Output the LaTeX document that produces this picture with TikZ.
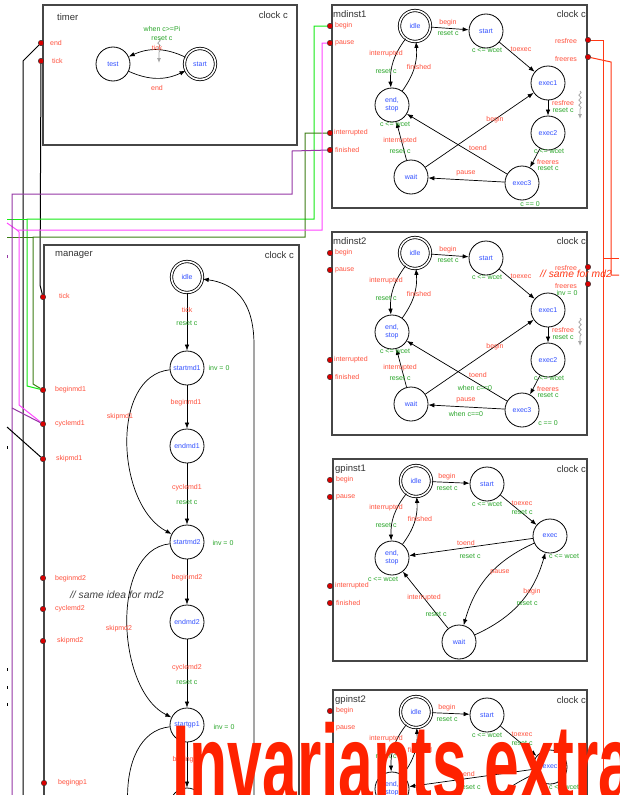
\documentclass[tikz,border=0pt]{standalone}
\usepackage{fontspec}
\setmainfont{Liberation Sans}
\usetikzlibrary{arrows.meta, decorations.pathmorphing}
\definecolor{syncred}{RGB}{255,80,60}
\definecolor{updgreen}{RGB}{40,165,40}
\definecolor{locblue}{RGB}{50,80,255}
\definecolor{boxgrey}{RGB}{70,70,70}
\definecolor{wiregreen}{RGB}{20,235,20}
\definecolor{wiredark}{RGB}{60,125,20}
\definecolor{wirepink}{RGB}{255,70,255}
\definecolor{wirepurple}{RGB}{150,55,165}
\definecolor{wirered}{RGB}{255,55,20}
\definecolor{titlered}{RGB}{255,34,0}
\tikzstyle{location} = [circle, 
draw=black, 
line width=0.8pt, 
minimum size=34pt, 
inner sep=0pt, 
align=center, 
font=\fontsize{7}{8}\selectfont, 
text=locblue]
\tikzstyle{initial loc} = [location, 
double, 
double distance=1.6pt, 
minimum size=31pt]
\tikzstyle{trans} = [line width=0.7pt, -{Latex[length=6pt,width=4.5pt]}]
\tikzstyle{sync} = [font=\fontsize{7}{8}\selectfont, text=syncred, inner sep=0pt]
\tikzstyle{update} = [font=\fontsize{7}{8}\selectfont, text=updgreen, inner sep=0pt]
\tikzstyle{port} = [circle, fill=red!85!black, draw=black!80, line width=0.4pt, minimum size=5.5pt, inner sep=0pt]
\tikzstyle{process} = [draw=boxgrey, line width=1.1pt]
\tikzstyle{title} = [font=\fontsize{9.5}{11}\selectfont, text=black!80, inner sep=0pt]
\tikzstyle{note} = [font=\fontsize{10.3}{12}\selectfont\itshape, inner sep=0pt]
\tikzstyle{wire} = [line width=1pt]
\tikzstyle{progress} = [draw=black!35, line width=0.8pt, decorate, 
decoration={snake, amplitude=1.2pt, segment length=5pt, post length=9pt}, 
-{Latex[length=5pt,width=4pt]}]

% one md instance: prefix, name, vertical shift
\newcommand{\mdinstance}[3]{%
\begin{scope}[shift={(0,#3)}]
\draw[process] (332,5) rectangle (587,208);
\node[title, anchor=west] at (333,14) {#2};
\node[title, anchor=east] at (586,14) {clock c};
\node (#1begin) [port] at (330,26) {};
\node (#1pause) [port] at (330,43) {};
\node (#1interrupted) [port] at (330,133) {};
\node (#1finished) [port] at (330,150) {};
\node (#1resfree) [port] at (588,40) {};
\node (#1freeres) [port] at (588,57) {};
\node[sync, anchor=west] at (335,26) {begin};
\node[sync, anchor=west] at (335,43) {pause};
\node[sync, anchor=west] at (334,133) {interrupted};
\node[sync, anchor=west] at (335,150) {finished};
\node[sync] at (566,41) {resfree};
\node[sync] at (566,59) {freeres};
\node (#1idle) [initial loc] at (415,26) {idle};
\node (#1start) [location] at (486,31) {start};
\node (#1exec1) [location] at (548,83) {exec1};
\node (#1exec2) [location] at (548,133) {exec2};
\node (#1exec3) [location] at (522,183) {exec3};
\node (#1wait) [location] at (411,177) {wait};
\node (#1endstop) [location] at (392,105) {end,\\stop};
\draw[trans] (#1idle) -- (#1start);
\draw[trans] (#1start) -- (#1exec1);
\draw[trans] (#1exec1) -- (#1exec2);
\draw[trans] (#1exec2) -- (#1exec3);
\draw[trans] (#1exec3) -- (#1wait);
\draw[trans] (#1exec3) -- (#1endstop);
\draw[trans] (#1wait) -- (#1exec1);
\draw[trans] (#1wait) -- (#1endstop);
\draw[trans] (#1idle) to[bend right=20] (#1endstop);
\draw[trans] (#1endstop) to[bend right=20] (#1idle);
\node[sync] at (448,23) {begin};
\node[update] at (448,33) {reset c};
\node[update] at (487,50) {c <= wcet};
\node[sync] at (521,49) {toexec};
\node[sync] at (386,54) {interrupted};
\node[update] at (386,71) {reset c};
\node[sync] at (419,67) {finished};
\node[update] at (395,124) {c <= wcet};
\node[sync] at (563,103) {resfree};
\node[update] at (563,110) {reset c};
\node[update] at (549,151) {c <= wcet};
\node[sync] at (548,162) {freeres};
\node[update] at (548,168) {reset c};
\node[sync] at (495,120) {begin};
\node[sync] at (478,148) {toend};
\node[sync] at (400,141) {interrupted};
\node[update] at (400,151) {reset c};
\node[sync] at (466,173) {pause};
\draw[progress] (580,91) -- (580,119);
\end{scope}}

% one gp instance: prefix, name, vertical shift
\newcommand{\gpinstance}[3]{%
\begin{scope}[shift={(0,#3)}]
\draw[process] (333,459) rectangle (587,661);
\node[title, anchor=west] at (335,469) {#2};
\node[title, anchor=east] at (586,469) {clock c};
\node (#1begin) [port] at (330,480) {};
\node (#1pause) [port] at (330,497) {};
\node (#1interrupted) [port] at (330,586) {};
\node (#1finished) [port] at (330,603) {};
\node[sync, anchor=west] at (336,480) {begin};
\node[sync, anchor=west] at (336,497) {pause};
\node[sync, anchor=west] at (335,586) {interrupted};
\node[sync, anchor=west] at (336,603) {finished};
\node (#1idle) [initial loc] at (416,481) {idle};
\node (#1start) [location] at (487,484) {start};
\node (#1exec) [location] at (550,536) {exec};
\node (#1endstop) [location] at (392,558) {end,\\stop};
\node (#1wait) [location] at (459,642) {wait};
\draw[trans] (#1idle) -- (#1start);
\draw[trans] (#1start) -- (#1exec);
\draw[trans] (#1exec) -- (#1endstop);
\draw[trans] (#1exec) to[bend right=25] (#1wait);
\draw[trans] (#1wait) to[bend right=25] (#1exec);
\draw[trans] (#1wait) -- (#1endstop);
\draw[trans] (#1idle) to[bend right=20] (#1endstop);
\draw[trans] (#1endstop) to[bend right=20] (#1idle);
\node[sync] at (447,477) {begin};
\node[update] at (447,488) {reset c};
\node[update] at (487,504) {c <= wcet};
\node[sync] at (522,503) {toexec};
\node[update] at (522,512) {reset c};
\node[sync] at (386,508) {interrupted};
\node[update] at (386,525) {reset c};
\node[sync] at (420,519) {finished};
\node[sync] at (466,543) {toend};
\node[update] at (470,556) {reset c};
\node[update] at (383,579) {c <= wcet};
\node[update] at (564,556) {c <= wcet};
\node[sync] at (500,572) {pause};
\node[sync] at (532,592) {begin};
\node[update] at (527,603) {reset c};
\node[sync] at (424,598) {interrupted};
\node[update] at (436,614) {reset c};
\end{scope}}

\begin{document}
\begin{tikzpicture}[x=1pt, y=-1pt]
\useasboundingbox (0,0) rectangle (619,795);
\clip (0,0) rectangle (619,795);
\fill[white] (0,0) rectangle (619,795);

% timer
\draw[process] (43,5) rectangle (297,145);
\node[title, anchor=west] at (57,17) {timer};
\node[title, anchor=east] at (288,15) {clock c};
\node (tend) [port] at (41,43) {};
\node (ttick) [port] at (41,61) {};
\node[sync, anchor=west] at (50,43) {end};
\node[sync, anchor=west] at (52,61) {tick};
\node (ttest) [location] at (113,64) {test};
\node (tstart) [initial loc] at (200,64) {start};
\draw[trans] (tstart) to[bend right=25] (ttest);
\draw[trans] (ttest) to[bend right=25] (tstart);
\draw[progress] (159,39) -- (159,63);
\node[update] at (162,29) {when c>=Pi};
\node[update] at (162,38) {reset c};
\node[sync] at (157,48) {tick};
\node[sync] at (157,88) {end};

% instances
\mdinstance{ma}{mdinst1}{0}
\mdinstance{mb}{mdinst2}{227}
\gpinstance{ga}{gpinst1}{0}
\gpinstance{gb}{gpinst2}{231}
\node[update] at (530,204) {c == 0};
\node[update] at (548,423) {c == 0};
\node[update] at (475,388) {when c==0};
\node[update] at (466,414) {when c==0};
\node[update] at (567,293) {inv = 0};
\node[note, text=wirered] at (576,274) {// same for md2};

% manager
\draw[process] (44,245) rectangle (299,830);
\node[title, anchor=west] at (55,255) {manager};
\node[title, anchor=east] at (294,255) {clock c};
\node (gtick) [port] at (43,297) {};
\node (gbeginmd1) [port] at (43,390) {};
\node (gcyclemd1) [port] at (43,424) {};
\node (gskipmd1) [port] at (43,459) {};
\node (gbeginmd2) [port] at (43,578) {};
\node (gcyclemd2) [port] at (43,609) {};
\node (gskipmd2) [port] at (43,641) {};
\node (gbegingp1) [port] at (44,783) {};
\node[sync, anchor=west] at (59,296) {tick};
\node[sync, anchor=west] at (55,390) {beginmd1};
\node[sync, anchor=west] at (55,424) {cyclemd1};
\node[sync, anchor=west] at (56,459) {skipmd1};
\node[sync, anchor=west] at (55,579) {beginmd2};
\node[sync, anchor=west] at (55,609) {cyclemd2};
\node[sync, anchor=west] at (57,641) {skipmd2};
\node[sync, anchor=west] at (58,783) {begingp1};
\node[note, text=black!75] at (117,595) {// same idea for md2};
\node (gidle) [initial loc] at (187,277) {idle};
\node (gstartmd1) [location] at (187,368) {startmd1};
\node (gendmd1) [location] at (187,446) {endmd1};
\node (gstartmd2) [location] at (187,542) {startmd2};
\node (gendmd2) [location] at (187,622) {endmd2};
\node (gstartgp1) [location] at (187,725) {startgp1};
\node (gendgp1) [location] at (187,805) {};
\coordinate (gpskip) at (178,905);
\coordinate (cycleback) at (254,830);
\draw[trans] (gidle) -- (gstartmd1);
\draw[trans] (gstartmd1) -- (gendmd1);
\draw[trans] (gendmd1) -- (gstartmd2);
\draw[trans] (gstartmd2) -- (gendmd2);
\draw[trans] (gendmd2) -- (gstartgp1);
\draw[trans] (gstartgp1) -- (gendgp1);
\draw[trans] (gstartmd1) .. controls (110,376) and (116,505) .. (gstartmd2);
\draw[trans] (gstartmd2) .. controls (110,550) and (116,690) .. (gstartgp1);
\draw[trans] (gstartgp1) .. controls (110,733) and (116,860) .. (gpskip);
\draw[trans] (cycleback) -- (254,345) .. controls (254,298) and (232,283) .. (gidle);
\node[sync] at (187,310) {tick};
\node[update] at (187,323) {reset c};
\node[update] at (219,368) {inv = 0};
\node[sync] at (186,403) {beginmd1};
\node[sync] at (120,417) {skipmd1};
\node[sync] at (187,488) {cyclemd1};
\node[update] at (187,502) {reset c};
\node[update] at (223,543) {inv = 0};
\node[sync] at (187,578) {beginmd2};
\node[sync] at (119,629) {skipmd2};
\node[sync] at (187,668) {cyclemd2};
\node[update] at (187,682) {reset c};
\node[update] at (224,727) {inv = 0};
\node[sync] at (187,760) {begingp1};

% wires
\coordinate (endout) at (23,830);
\coordinate (greenout) at (7,219);
\coordinate (darkout) at (7,237);
\coordinate (pinkout) at (7,223);
\coordinate (purpleout) at (12,830);
\coordinate (skipin) at (7,427);
\coordinate (redout) at (603,830);
\coordinate (redbranch) at (619,258);
\coordinate (freeout) at (619,275);
\draw[wire, black] (tend) -- (23,61) -- (endout);
\draw[wire, black] (ttick) -- (40,285) -- (gtick);
\draw[wire, wiregreen] (mabegin) -- (314,26) -- (314,219) -- (27,219) -- (27,386) -- (gbeginmd1);
\draw[wire, wiregreen] (27,219) -- (greenout);
\draw[wire, wiredark] (mainterrupted) -- (305,133) -- (305,237) -- (33,237) -- (33,384) -- (gbeginmd1);
\draw[wire, wiredark] (33,237) -- (darkout);
\draw[wire, wirepink] (mapause) -- (322,43) -- (322,230) -- (17,230) -- (pinkout);
\draw[wire, wirepink] (17,230) -- (19,232) -- (19,405) -- (gcyclemd1);
\draw[wire, wirepurple] (mafinished) -- (292,151) -- (292,194) -- (12,194) -- (purpleout);
\draw[wire, wirepurple] (12,408) -- (gcyclemd1);
\draw[wire, black] (skipin) -- (gskipmd1);
\draw[wire, wirered] (maresfree) -- (603,40) -- (redout);
\draw[wire, wirered] (603,258) -- (redbranch);
\draw[wire, wirered] (mafreeres) -- (611,62) -- (611,275) -- (freeout);
\foreach \ty in {446,668,686,703}
  \draw[line width=0.8pt] (7,\ty) -- (7,\ty+3);
\draw[line width=0.8pt, wirepurple] (7,255) -- (7,258);

% headline
\node (headline) [anchor=base west, inner sep=0pt, text=titlered, 
  font=\fontsize{108}{110}\selectfont\bfseries] at (172,800) 
  {\scalebox{0.578}[1]{Invariants extraction}};
\end{tikzpicture}
\end{document}
